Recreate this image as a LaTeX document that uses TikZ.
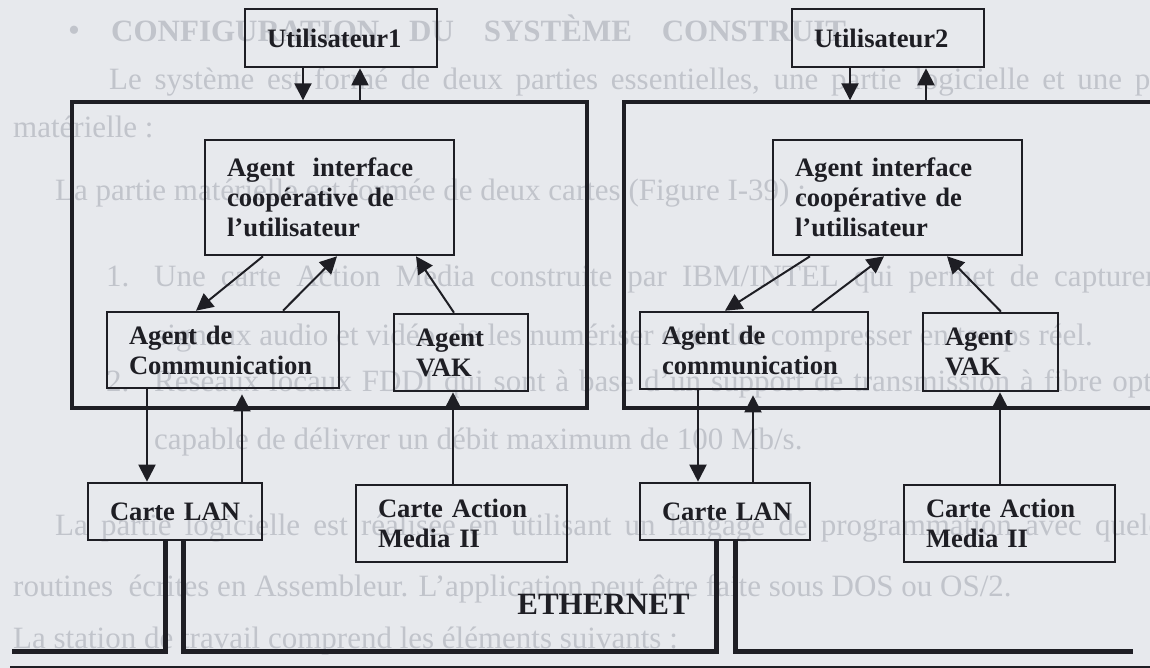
\documentclass[tikz,border=0pt]{standalone}
\usepackage{fontspec}
\setmainfont{Liberation Serif}
\usetikzlibrary{arrows.meta}
\definecolor{paper}{RGB}{231,233,237}
\definecolor{ink}{RGB}{30,30,36}
\definecolor{ghost}{RGB}{193,196,203}
\newcommand\boxfont{\fontsize{26.6}{30}\selectfont\bfseries}
\newcommand\pagefont{\fontsize{31}{36}\selectfont}
\tikzset{
  box/.style={draw=ink, line width=2.6pt, rectangle, inner xsep=22pt, inner ysep=0pt,
              align=left, font=\boxfont, text=ink},
  frame/.style={draw=ink, line width=3.4pt, rectangle, inner sep=0pt},
  link/.style={draw=ink, line width=2pt, -{Triangle[length=17pt,width=17pt]}},
  eth/.style={draw=ink, line width=5pt},
  ghosttext/.style={anchor=base west, inner sep=0pt, text=ghost, font=\pagefont},
}
\begin{document}
\begin{tikzpicture}[x=1pt, y=-1pt]
\useasboundingbox (0,0) rectangle (1150,668);
\clip (0,0) rectangle (1150,668);
\fill[paper] (0,0) rectangle (1150,668);

% page text printed behind the figure
\node[ghosttext] (gb) at (68,42) {{\fontsize{34}{34}\selectfont •}};
\node[ghosttext, font={\pagefont\bfseries}] (g1) at (111,42)
  {\makebox[735pt][s]{CONFIGURATION DU SYSTÈME CONSTRUIT}};
\node[ghosttext] (g2) at (109,90)
  {\makebox[1096pt][s]{Le système est formé de deux parties essentielles, une partie logicielle et une partie}};
\node[ghosttext] (g3) at (13,138) {matérielle :};
\node[ghosttext] (g4) at (55,201) {La partie matérielle est formée de deux cartes (Figure I-39) :};
\node[ghosttext] (g5n) at (106,286) {1.};
\node[ghosttext] (g5) at (154,286)
  {\makebox[1051pt][s]{Une carte Action Media construite par IBM/INTEL qui permet de capturer les}};
\node[ghosttext] (g6) at (155,345) {signaux audio et vidéo, de les numériser et de les compresser en temps réel.};
\node[ghosttext] (g7n) at (106,391) {2.};
\node[ghosttext] (g7) at (154,391)
  {\makebox[1051pt][s]{Réseaux locaux FDDI qui sont à base d’un support de transmission à fibre optique}};
\node[ghosttext] (g8) at (154,449) {capable de délivrer un débit maximum de 100 Mb/s.};
\node[ghosttext] (g9) at (55,535)
  {\makebox[1150pt][s]{La partie logicielle est réalisée en utilisant un langage de programmation avec quelques}};
\node[ghosttext] (g10) at (13,596) {routines \ écrites en Assembleur. L’application peut être faite sous DOS ou OS/2.};
\node[ghosttext] (g11) at (13,648) {La station de travail comprend les éléments suivants :};

% the two workstations
\node[frame, minimum width=515pt, minimum height=306pt] (sysL) at (329.5,255) {};
\node[frame, minimum width=546pt, minimum height=306pt] (sysR) at (897,255) {};

\node[box, minimum height=58pt, text width=148pt] (U1) at (341,38) {Utilisateur1};
\node[box, minimum height=58pt, text width=148pt] (U2) at (888,38) {Utilisateur2};

\node[box, minimum height=115pt, text width=205pt] (ACI1) at (329.5,197.5)
  {Agent~~interface\\coopérative~de\\l’utilisateur};
\node[box, minimum height=115pt, text width=205pt] (ACI2) at (897.5,197.5)
  {Agent~interface\\coopérative~de\\l’utilisateur};

\node[box, minimum height=76pt, text width=188pt] (AC1) at (223,350) {Agent~de\\Communication};
\node[box, minimum height=77pt, text width=184pt] (AC2) at (754,350.5) {Agent~de\\communication};

\node[box, minimum height=77pt, text width=90pt] (VAK1) at (461,352.5) {Agent\\VAK};
\node[box, minimum height=78pt, text width=91pt] (VAK2) at (990.5,352) {Agent\\VAK};

\node[box, minimum height=57pt, text width=130pt] (LAN1) at (175,511.5) {Carte~LAN};
\node[box, minimum height=57pt, text width=126pt] (LAN2) at (725,511.5) {Carte~LAN};

\node[box, minimum height=77pt, text width=167pt] (CA1) at (461.5,523.5) {Carte~Action\\Media~II};
\node[box, minimum height=77pt, text width=167pt] (CA2) at (1009.5,523.5) {Carte~Action\\Media~II};

% user links
\draw[link] (U1.south -| 303,0) -- (sysL.north -| 303,0);
\draw[link] (sysL.north -| 360,0) -- (U1.south -| 360,0);
\draw[link] (U2.south -| 850,0) -- (sysR.north -| 850,0);
\draw[link] (sysR.north -| 926,0) -- (U2.south -| 926,0);

% links inside each workstation
\draw[link] (ACI1.south -| 263,0) -- (AC1.north -| 196,0);
\draw[link] (AC1.north -| 283,0) -- (ACI1.south -| 337,0);
\draw[link] (VAK1.north -| 454,0) -- (ACI1.south -| 416,0);
\draw[link] (ACI2.south -| 810,0) -- (AC2.north -| 725,0);
\draw[link] (AC2.north -| 812,0) -- (ACI2.south -| 884,0);
\draw[link] (VAK2.north -| 1001,0) -- (ACI2.south -| 947,0);

% links to the cards
\draw[link] (AC1.south -| 147,0) -- (LAN1.north -| 147,0);
\draw[link, shorten >=5pt] (LAN1.north -| 242,0) -- (AC1.south -| 242,0);
\draw[link] (CA1.north -| 453,0) -- (VAK1.south -| 453,0);
\draw[link] (AC2.south -| 698,0) -- (LAN2.north -| 698,0);
\draw[link, shorten >=5pt] (LAN2.north -| 753,0) -- (AC2.south -| 753,0);
\draw[link] (CA2.north -| 1000,0) -- (VAK2.south -| 1000,0);

% Ethernet bus
\coordinate (busW) at (12,651);
\coordinate (busE) at (1133,651);
\draw[eth] (LAN1.south -| 165,0) |- (busW);
\draw[eth] (LAN1.south -| 183,0) -- (183,651) -| (LAN2.south -| 716,0);
\draw[eth] (LAN2.south -| 735,0) |- (busE);
\node[font={\fontsize{31}{31}\selectfont\bfseries}, text=ink, inner sep=0pt] (ethlabel) at (603.5,604) {ETHERNET};

% rule under the figure
\coordinate (ruleW) at (10,668.5);
\coordinate (ruleE) at (1160,668.5);
\draw[draw=ink, line width=6pt] (ruleW) -- (ruleE);
\end{tikzpicture}
\end{document}
